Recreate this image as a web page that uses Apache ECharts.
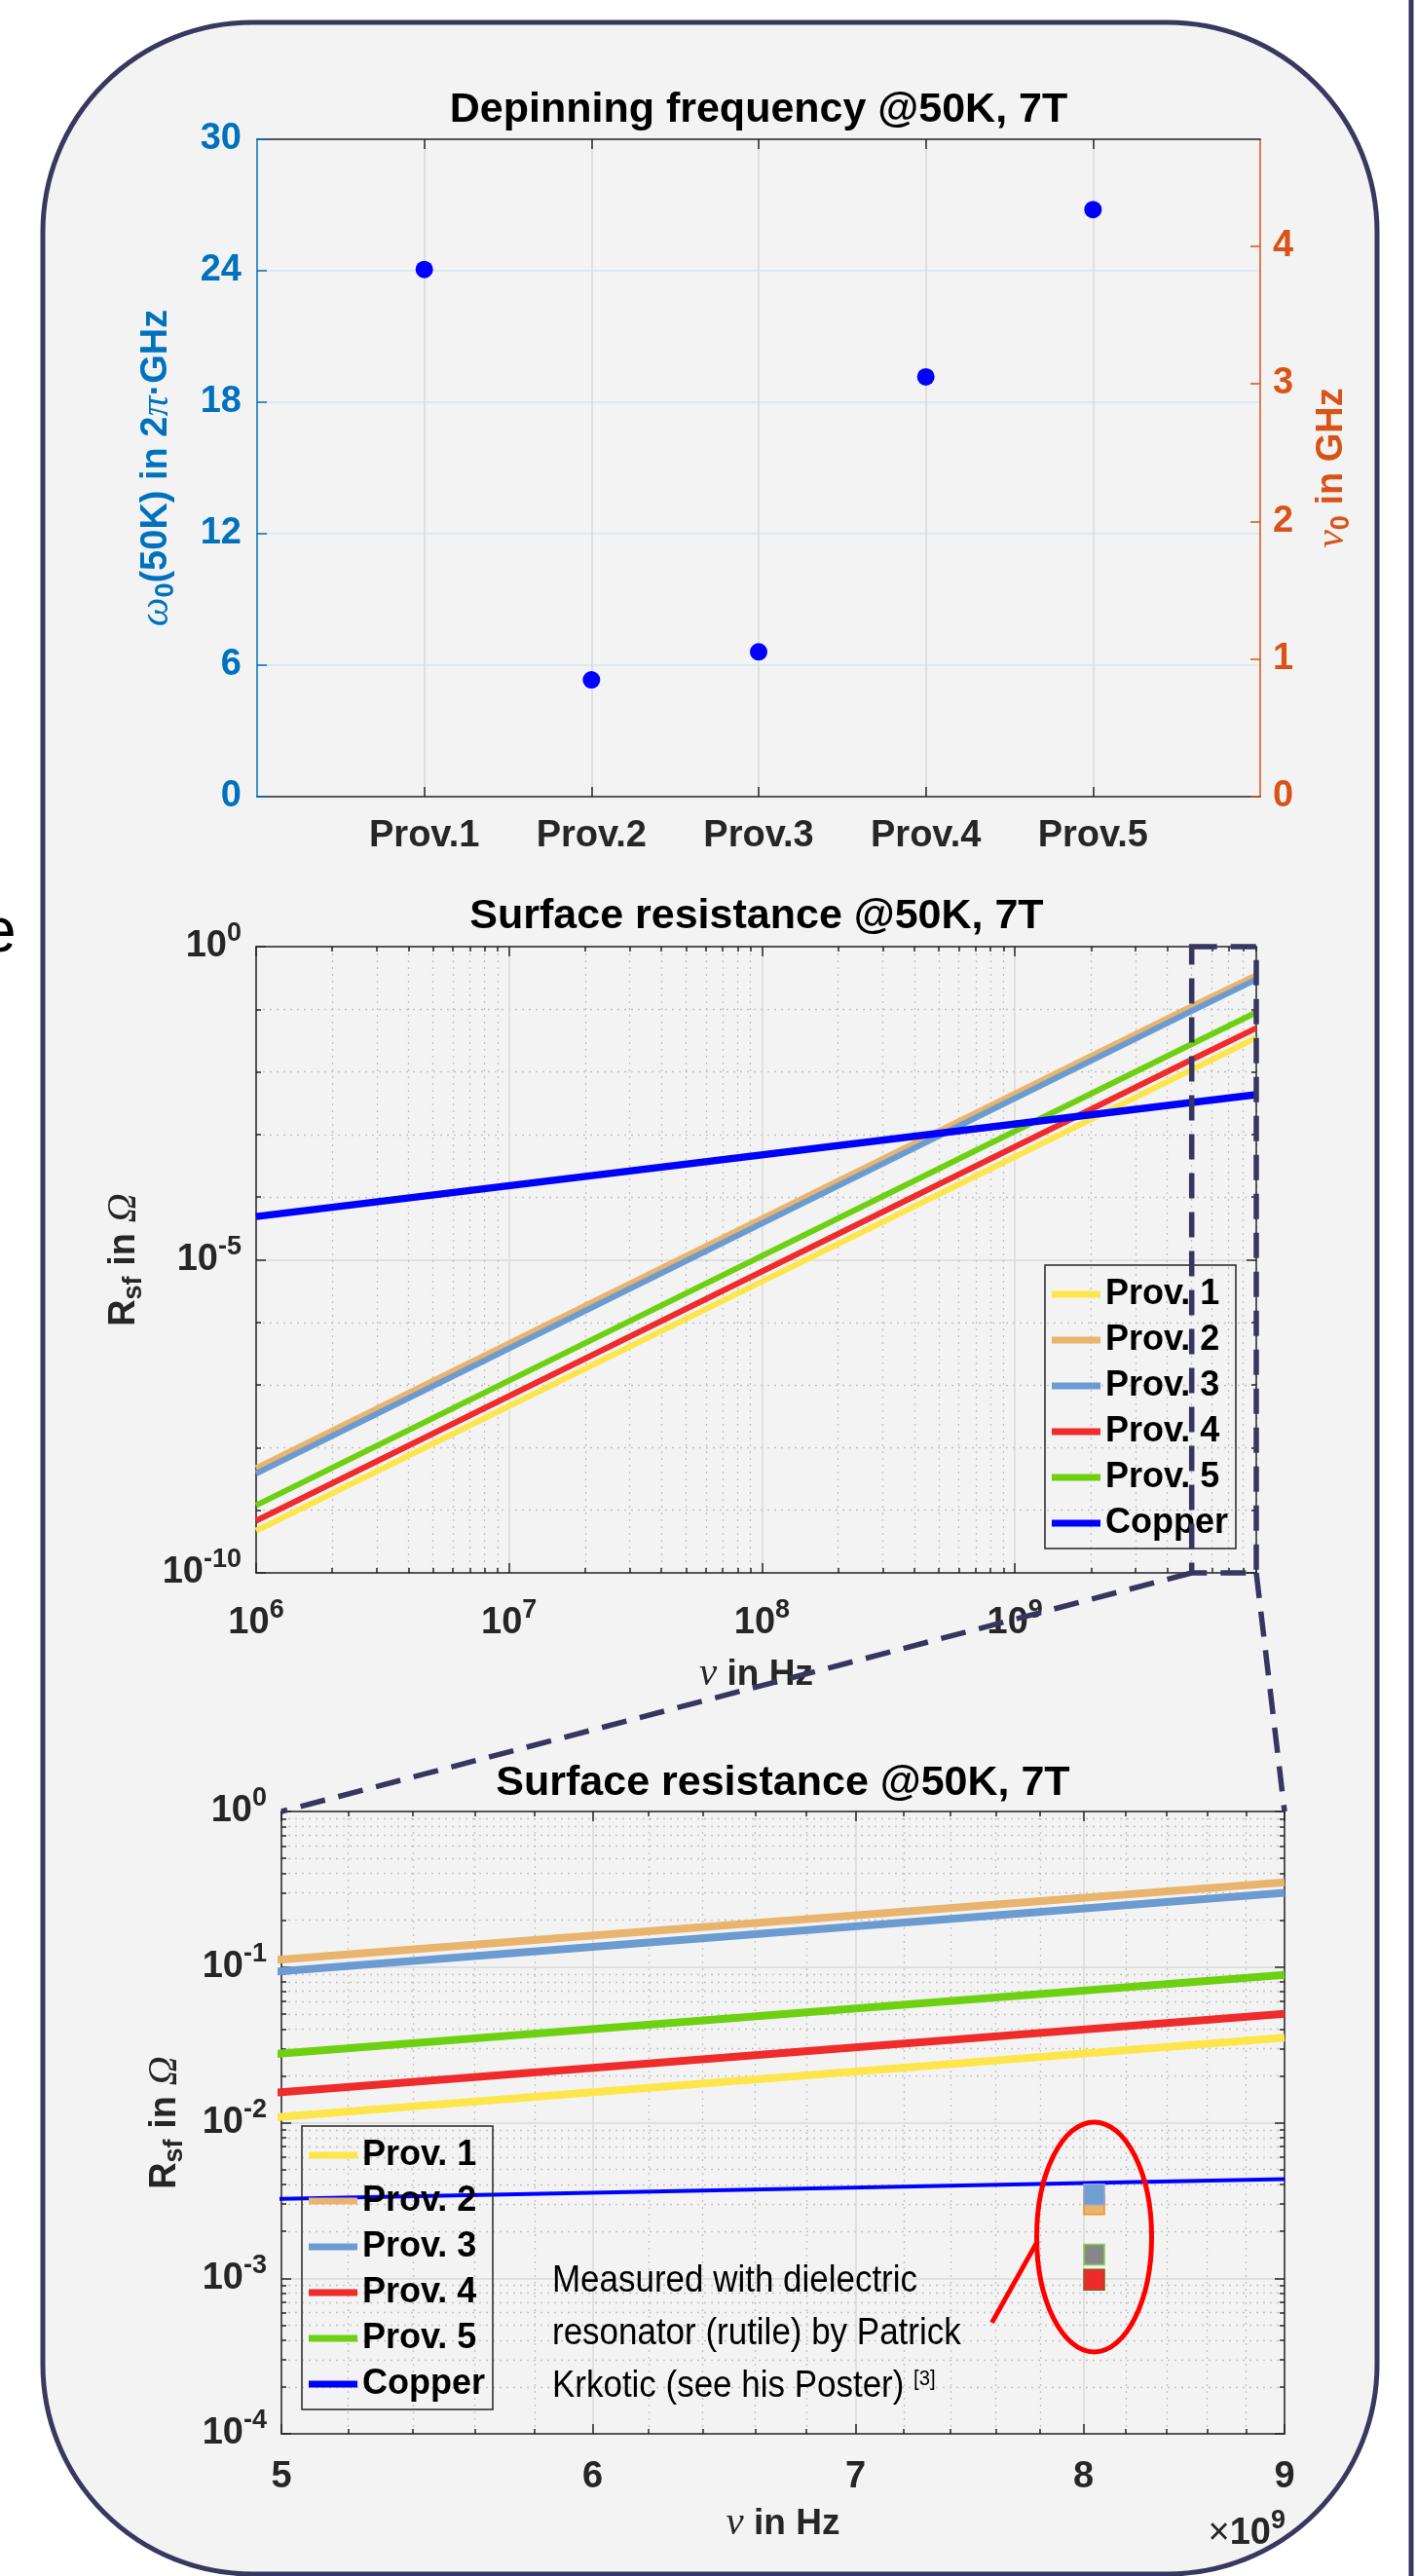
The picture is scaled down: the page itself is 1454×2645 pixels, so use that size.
<!DOCTYPE html>
<html>
<head>
<meta charset="utf-8">
<title>Depinning frequency and surface resistance</title>
<script src="https://cdn.jsdelivr.net/npm/echarts@6/dist/echarts.min.js"></script>
<style>
  html, body { margin: 0; padding: 0; background: #ffffff; }
  #chart { width: 1454px; height: 2645px; }
</style>
</head>
<body>
<div id="chart"></div>
<script>
// ---- Depinning frequency omega0 at 50 K, 7 T (2π·GHz) ----
const providers = ['Prov.1', 'Prov.2', 'Prov.3', 'Prov.4', 'Prov.5'];
const omega0 = [24.06, 5.33, 6.61, 19.16, 26.79];

// ---- Surface resistance R_sf (Ω) versus frequency (Hz) ----
const seriesNames = ['Prov. 1', 'Prov. 2', 'Prov. 3', 'Prov. 4', 'Prov. 5', 'Copper'];
const freqHz = [1e6, 5e9, 9e9];
const rsProv1 = [4.7e-10, 0.0109, 0.0352];
const rsProv2 = [4.7e-9, 0.112, 0.35];
const rsProv3 = [3.85e-9, 0.094, 0.30];
const rsProv4 = [6.8e-10, 0.0157, 0.050];
const rsProv5 = [1.2e-9, 0.0278, 0.089];
const rsCopper = [4.9e-5, 3.24e-3, 4.34e-3];
const lineColors = ['#FDE64B', '#E8B46E', '#6C9BD2', '#EF2B2B', '#6DD112', '#0000FF'];

// ---- Dielectric resonator (rutile) measurements ----
const measFreqHz = 8.05e9;
const measNames = ['Prov. 2', 'Prov. 3', 'Prov. 5', 'Prov. 4'];
const measRs = [2.99e-3, 3.46e-3, 1.42e-3, 9.8e-4];
const measFill = ['#E8B46E', '#6E9FD2', '#878787', '#EE2A2A'];
const measEdge = ['#F0922A', '#A69CC9', '#86D14A', '#8A5A1A'];

// ---- Tick values ----
const nuTicks = [0, 1, 2, 3, 4];
const midXTicks = [1e6, 1e7, 1e8, 1e9];
const midYTicks = [1e-10, 1e-5, 1];
const botXTicks = [5e9, 6e9, 7e9, 8e9, 9e9];
const botYTicks = [1e-4, 1e-3, 1e-2, 1e-1, 1];

function logMinor(e0, e1, maxV) {
  const out = [];
  for (let e = e0; e <= e1; e++) {
    for (let k = 2; k <= 9; k++) {
      const v = k * Math.pow(10, e);
      if (v <= maxV) out.push(v);
    }
  }
  return out;
}
const midXMinor = logMinor(6, 9, 9e9);
const midYMinor = [];
for (let e = -9; e <= -1; e++) if (e !== -5) midYMinor.push(Math.pow(10, e));
const botXMinor = [];
for (let k = 26; k <= 44; k++) if (k % 5) botXMinor.push(k * 2e8);
const botYMinor = logMinor(-4, -1, 1);

const rsTable = [rsProv1, rsProv2, rsProv3, rsProv4, rsProv5, rsCopper];

const FONT = "'Liberation Sans', Arial, Helvetica, sans-serif";
const SERIF = "'Liberation Serif', 'Times New Roman', serif";
const DARK = '#262626';
const AX_BLUE = '#0072BD';
const AX_ORANGE = '#D95319';
const PANEL = '#F3F3F3';
const FRAME = '#383860';

const TICK_FS = 38, SUP_FS = 27;

function powRich(color) {
  return {
    b: { fontSize: TICK_FS, fontWeight: 'bold', fontFamily: FONT, color: color },
    s: { fontSize: SUP_FS, fontWeight: 'bold', fontFamily: FONT, color: color, padding: [0, 0, 26, 0] }
  };
}
function powLabel(v) {
  return '{b|10}{s|' + Math.round(Math.log10(v)) + '}';
}

// helper: one axis with everything switched off, switched on piece by piece
function bare(gridIndex, type, min, max, position, extra) {
  const a = {
    gridIndex, type, min, max, position,
    axisLine: { show: false, onZero: false },
    axisTick: { show: false },
    axisLabel: { show: false },
    splitLine: { show: false },
    minorTick: { show: false },
    minorSplitLine: { show: false },
    silent: true
  };
  if (type === 'log') a.logBase = 10;
  return Object.assign(a, extra || {});
}
function line(color) { return { show: true, onZero: false, lineStyle: { color, width: 1.5 } }; }
function ticks(values, color, len) {
  return { show: true, inside: true, length: len, customValues: values, lineStyle: { color, width: 1.5 } };
}
const majorGrid = { show: true, lineStyle: { color: '#DADADA', width: 1.5, type: 'solid' } };
const minorGrid = { show: true, lineStyle: { color: '#C2C2C2', width: 1.3, type: [2, 5] } };

const axisNameStyle = (color, size) => ({
  color, fontSize: size, fontWeight: 'bold', fontFamily: FONT,
  rich: {
    g: { fontFamily: SERIF, fontStyle: 'italic', fontWeight: 'normal', fontSize: size + 4, color },
    sub: { fontFamily: FONT, fontWeight: 'bold', fontSize: 27, color, padding: [20, 0, 0, 0] }
  }
});

const provIdx = providers.map((p, i) => i + 1);
const wMax = 30;
const nuMax = wMax / (2 * Math.PI);

const xAxes = [
  // top chart
  bare(0, 'value', 0, provIdx.length + 1, 'bottom', {
    axisLine: line(DARK),
    axisTick: ticks(provIdx, DARK, 10),
    axisLabel: {
      show: true, customValues: provIdx, formatter: v => providers[v - 1], margin: 22,
      fontSize: TICK_FS, fontWeight: 'bold', fontFamily: FONT, color: DARK
    },
    splitLine: majorGrid
  }),
  bare(0, 'value', 0, provIdx.length + 1, 'top', { axisLine: line(DARK), axisTick: ticks(provIdx, DARK, 10) }),
  // middle chart
  bare(1, 'log', 1e6, 9e9, 'bottom', {
    axisLine: line(DARK),
    axisTick: ticks(midXTicks, DARK, 10),
    axisLabel: { show: true, customValues: midXTicks, formatter: powLabel, margin: 25, rich: powRich(DARK) },
    splitLine: majorGrid,
    name: '{g|ν} in Hz', nameLocation: 'middle', nameGap: 84, nameTextStyle: axisNameStyle(DARK, 37)
  }),
  bare(1, 'log', 1e6, 9e9, 'top', { axisLine: line(DARK), axisTick: ticks(midXTicks, DARK, 10) }),
  bare(1, 'log', 1e6, 9e9, 'bottom', { axisTick: ticks(midXMinor, DARK, 5), splitLine: minorGrid }),
  bare(1, 'log', 1e6, 9e9, 'top', { axisTick: ticks(midXMinor, DARK, 5) }),
  // bottom chart
  bare(2, 'log', 5e9, 9e9, 'bottom', {
    axisLine: line(DARK),
    axisTick: ticks(botXTicks, DARK, 10),
    axisLabel: {
      show: true, customValues: botXTicks, formatter: v => String(Math.round(v / 1e9)), margin: 26,
      fontSize: TICK_FS, fontWeight: 'bold', fontFamily: FONT, color: DARK
    },
    splitLine: majorGrid,
    name: '{g|ν} in Hz', nameLocation: 'middle', nameGap: 72, nameTextStyle: axisNameStyle(DARK, 37)
  }),
  bare(2, 'log', 5e9, 9e9, 'top', { axisLine: line(DARK), axisTick: ticks(botXTicks, DARK, 10) }),
  bare(2, 'log', 5e9, 9e9, 'bottom', { axisTick: ticks(botXMinor, DARK, 5), splitLine: minorGrid }),
  bare(2, 'log', 5e9, 9e9, 'top', { axisTick: ticks(botXMinor, DARK, 5) })
];

const yAxes = [
  // top chart
  bare(0, 'value', 0, wMax, 'left', {
    interval: 6,
    axisLine: line(AX_BLUE),
    axisTick: { show: true, inside: true, length: 10, lineStyle: { color: AX_BLUE, width: 1.5 } },
    axisLabel: { show: true, margin: 16, fontSize: TICK_FS, fontWeight: 'bold', fontFamily: FONT, color: AX_BLUE },
    splitLine: { show: true, lineStyle: { color: '#D6E4F1', width: 1.5 } },
    name: '{g|ω}{sub|0}(50K) in 2{g|π}·GHz', nameLocation: 'middle', nameRotate: 90, nameGap: 80,
    nameTextStyle: axisNameStyle(AX_BLUE, 38)
  }),
  bare(0, 'value', 0, nuMax, 'right', {
    axisLine: line(AX_ORANGE),
    axisTick: ticks(nuTicks, AX_ORANGE, 10),
    axisLabel: {
      show: true, customValues: nuTicks, formatter: v => String(Math.round(v)), margin: 13,
      fontSize: TICK_FS, fontWeight: 'bold', fontFamily: FONT, color: AX_ORANGE
    },
    name: '{g|ν}{sub|0} in GHz', nameLocation: 'middle', nameRotate: 90, nameGap: 50,
    nameTextStyle: axisNameStyle(AX_ORANGE, 38)
  }),
  // middle chart
  bare(1, 'log', 1e-10, 1, 'left', {
    axisLine: line(DARK),
    axisTick: ticks(midYTicks, DARK, 10),
    axisLabel: { show: true, customValues: midYTicks, formatter: powLabel, margin: 15, rich: powRich(DARK) },
    splitLine: majorGrid,
    name: 'R{sub|sf} in {g|Ω}', nameLocation: 'middle', nameRotate: 90, nameGap: 112,
    nameTextStyle: axisNameStyle(DARK, 38)
  }),
  bare(1, 'log', 1e-10, 1, 'right', { axisLine: line(DARK), axisTick: ticks(midYTicks, DARK, 10) }),
  bare(1, 'log', 1e-10, 1, 'left', { axisTick: ticks(midYMinor, DARK, 5), splitLine: minorGrid }),
  bare(1, 'log', 1e-10, 1, 'right', { axisTick: ticks(midYMinor, DARK, 5) }),
  // bottom chart
  bare(2, 'log', 1e-4, 1, 'left', {
    axisLine: line(DARK),
    axisTick: ticks(botYTicks, DARK, 10),
    axisLabel: { show: true, customValues: botYTicks, formatter: powLabel, margin: 15, rich: powRich(DARK) },
    splitLine: majorGrid,
    name: 'R{sub|sf} in {g|Ω}', nameLocation: 'middle', nameRotate: 90, nameGap: 96,
    nameTextStyle: axisNameStyle(DARK, 38)
  }),
  bare(2, 'log', 1e-4, 1, 'right', { axisLine: line(DARK), axisTick: ticks(botYTicks, DARK, 10) }),
  bare(2, 'log', 1e-4, 1, 'left', { axisTick: ticks(botYMinor, DARK, 5), splitLine: minorGrid }),
  bare(2, 'log', 1e-4, 1, 'right', { axisTick: ticks(botYMinor, DARK, 5) })
];

// ---- series ----
const series = [{
  type: 'scatter', xAxisIndex: 0, yAxisIndex: 0, name: 'omega0',
  data: providers.map((p, i) => [provIdx[i], omega0[i]]),
  symbol: 'circle', symbolSize: 18, itemStyle: { color: '#0000FF', opacity: 1 }, z: 5
}];

function rsSeries(xi, yi, widths) {
  return seriesNames.map((name, k) => ({
    type: 'line', name, xAxisIndex: xi, yAxisIndex: yi,
    data: freqHz.map((f, i) => [f, rsTable[k][i]]),
    showSymbol: false, symbol: 'none', clip: true, silent: true,
    lineStyle: { color: lineColors[k], width: widths[k] },
    itemStyle: { color: lineColors[k] },
    z: 3 + k * 0.01
  }));
}
series.push(...rsSeries(2, 2, [6, 6, 6, 6, 6, 7.5]));
series.push(...rsSeries(6, 6, [8, 8, 8, 8, 8, 4]));
series.push({
  type: 'scatter', xAxisIndex: 6, yAxisIndex: 6, name: 'Rutile resonator',
  symbol: 'rect', symbolSize: 21, z: 6,
  data: measNames.map((n, i) => ({
    name: n, value: [measFreqHz, measRs[i]],
    itemStyle: { color: measFill[i], borderColor: measEdge[i], borderWidth: 1.5, opacity: 1 }
  }))
});

function legendAt(left, top) {
  return {
    data: seriesNames, orient: 'vertical', left, top,
    icon: 'rect', itemWidth: 50, itemHeight: 7, itemGap: 7,
    padding: [10, 8, 6, 7], borderColor: DARK, borderWidth: 1.5,
    backgroundColor: 'transparent', selectedMode: false,
    textStyle: { fontSize: 36, fontWeight: 'bold', fontFamily: FONT, color: '#000', lineHeight: 40 }
  };
}

function titleAt(text, cx, top) {
  return {
    text, left: cx, top, textAlign: 'center', padding: 0,
    textStyle: { fontSize: 43, fontWeight: 'bold', fontFamily: FONT, color: '#000', lineHeight: 50 }
  };
}

const staticGraphics = [
  {
    id: 'panel', type: 'rect', z: -10, silent: true,
    shape: { x: 44, y: 23, width: 1370, height: 2620, r: 215 },
    style: { fill: PANEL, stroke: FRAME, lineWidth: 5 }
  },
  {
    id: 'edge', type: 'line', z: -10, silent: true,
    shape: { x1: 1449, y1: 0, x2: 1449, y2: 2645 },
    style: { stroke: FRAME, lineWidth: 5 }
  },
  {
    id: 'stray', type: 'text', x: -19, y: 991, silent: true,
    style: { text: 'e', fontSize: 64, fontFamily: FONT, fill: '#000', align: 'left', verticalAlign: 'bottom' }
  },
  {
    id: 'note', type: 'text', x: 567, y: 2316, scaleX: 0.92, silent: true, z: 20,
    style: {
      text: 'Measured with dielectric\nresonator (rutile) by Patrick\nKrkotic (see his Poster) {s|[3]}',
      fontSize: 38, fontFamily: FONT, fill: '#000', lineHeight: 54, align: 'left', verticalAlign: 'top',
      rich: { s: { fontSize: 22, fontFamily: FONT, fill: '#000', padding: [0, 0, 16, 0] } }
    }
  },
  {
    id: 'exp', type: 'text', x: 1320, y: 2628, silent: true, z: 20,
    style: {
      text: '{x|×}{b|10}{s|9}', align: 'right', verticalAlign: 'bottom',
      rich: {
        x: { fontSize: 38, fontFamily: FONT, fontWeight: 'normal', fill: DARK },
        b: { fontSize: 38, fontFamily: FONT, fontWeight: 'bold', fill: DARK },
        s: { fontSize: 27, fontFamily: FONT, fontWeight: 'bold', fill: DARK, padding: [0, 0, 26, 0] }
      }
    }
  }
];

const option = {
  animation: false,
  backgroundColor: '#ffffff',
  title: [
    titleAt('Depinning frequency @50K, 7T', 779, 88),
    titleAt('Surface resistance @50K, 7T', 777, 916),
    titleAt('Surface resistance @50K, 7T', 804, 1806)
  ],
  grid: [
    { left: 264, top: 143, width: 1030, height: 675, containLabel: false },
    { left: 263, top: 972, width: 1027, height: 643, containLabel: false },
    { left: 289, top: 1860, width: 1030, height: 639, containLabel: false }
  ],
  legend: [legendAt(1073, 1299), legendAt(310, 2183)],
  xAxis: xAxes,
  yAxis: yAxes,
  series,
  graphic: { elements: staticGraphics }
};

const chart = echarts.init(document.getElementById('chart'), null, { renderer: 'canvas', width: 1454, height: 2645 });
chart.setOption(option);

// zoom-window outline and connectors, and the measurement highlight, placed through the axes
const px = (xi, v) => chart.convertToPixel({ xAxisIndex: xi }, v);
const py = (yi, v) => chart.convertToPixel({ yAxisIndex: yi }, v);
const zx0 = px(2, botXTicks[0]), zx1 = px(2, botXTicks[botXTicks.length - 1]);
const zyTop = py(2, midYTicks[midYTicks.length - 1]), zyBot = py(2, midYTicks[0]);
const bx0 = px(6, botXTicks[0]), bx1 = px(6, botXTicks[botXTicks.length - 1]);
const byTop = py(6, botYTicks[botYTicks.length - 1]);
const dash = { stroke: '#363660', lineWidth: 5.5, lineDash: [26, 14], fill: 'transparent' };

const mcx = px(6, measFreqHz);
const mcy = py(6, Math.sqrt(Math.max(...measRs) * Math.min(...measRs)));
const rx = 59, ry = 118;

chart.setOption({
  graphic: {
    elements: [
      { id: 'zoomBox', type: 'rect', z: 50, silent: true,
        shape: { x: zx0, y: zyTop, width: zx1 - zx0, height: zyBot - zyTop }, style: dash },
      { id: 'zoomL', type: 'line', z: 50, silent: true,
        shape: { x1: zx0, y1: zyBot, x2: bx0, y2: byTop }, style: dash },
      { id: 'zoomR', type: 'line', z: 50, silent: true,
        shape: { x1: zx1, y1: zyBot, x2: bx1, y2: byTop }, style: dash },
      { id: 'ring', type: 'ellipse', z: 50, silent: true,
        shape: { cx: mcx, cy: mcy, rx, ry }, style: { fill: 'transparent', stroke: '#FF0000', lineWidth: 5 } },
      { id: 'pointer', type: 'line', z: 50, silent: true,
        shape: { x1: mcx - rx + 1, y1: mcy + 4, x2: mcx - rx - 46, y2: mcy + 88 },
        style: { stroke: '#FF0000', lineWidth: 5 } }
    ]
  }
});
</script>
</body>
</html>
